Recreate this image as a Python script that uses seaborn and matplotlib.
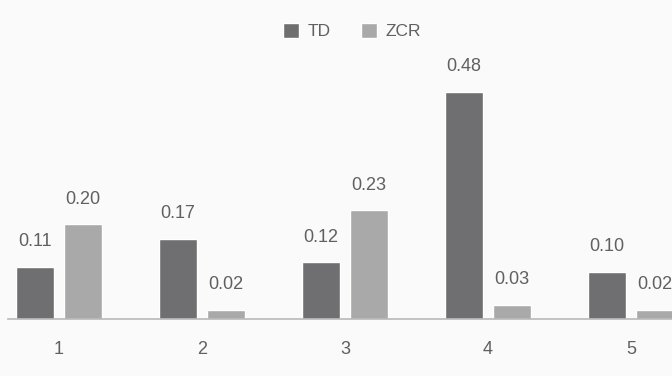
import matplotlib
matplotlib.use("Agg")
import matplotlib.pyplot as plt
import seaborn as sns
import pandas as pd

categories = ["1", "2", "3", "4", "5"]
td_values = [0.11, 0.17, 0.12, 0.48, 0.10]
zcr_values = [0.20, 0.02, 0.23, 0.03, 0.02]
series_names = ["TD", "ZCR"]

df = pd.DataFrame({
    "cat": categories * 2,
    "value": td_values + zcr_values,
    "series": [series_names[0]] * len(categories) + [series_names[1]] * len(categories),
})

sns.set_theme(style="white")
plt.rcParams["font.family"] = ["Liberation Sans", "DejaVu Sans"]

W, H = 672, 376
fig = plt.figure(figsize=(W / 100, H / 100), dpi=100)
bg = "#fafafa"
fig.patch.set_facecolor(bg)

left_px, right_px = 8, 672
bottom_px, top_px = 319, 30
ax = fig.add_axes([left_px / W, (H - bottom_px) / H, (right_px - left_px) / W, (bottom_px - top_px) / H])
ax.set_facecolor(bg)

palette = {"TD": "#6f6f71", "ZCR": "#a9a9aa"}
sns.barplot(data=df, x="cat", y="value", hue="series", palette=palette,
            width=0.67, gap=0.21, saturation=1, ax=ax, legend=True)

px_per_unit = 143
ax.set_xlim(-(59 - left_px) / px_per_unit, (right_px - 59) / px_per_unit)
ax.set_ylim(0, (bottom_px - top_px) / 473)

text_color = "#606060"
for c in ax.containers:
    ax.bar_label(c, fmt="%.2f", padding=12, fontsize=13, color=text_color)

for s in ["top", "right", "left"]:
    ax.spines[s].set_visible(False)
ax.spines["bottom"].set_color("#b8b8b8")
ax.spines["bottom"].set_linewidth(1.2)
ax.set_yticks([])
ax.set_xlabel("")
ax.set_ylabel("")
ax.tick_params(axis="x", length=0, pad=16, labelsize=13, labelcolor=text_color)

ax.legend(title=None, loc="center", bbox_to_anchor=(352 / W, (H - 31) / H),
          bbox_transform=fig.transFigure, ncol=2, frameon=False,
          fontsize=12.5, handlelength=0.95, handleheight=0.95, handletextpad=0.5,
          columnspacing=1.7, labelcolor=text_color)

fig.savefig("out.png", dpi=100, facecolor=bg)
